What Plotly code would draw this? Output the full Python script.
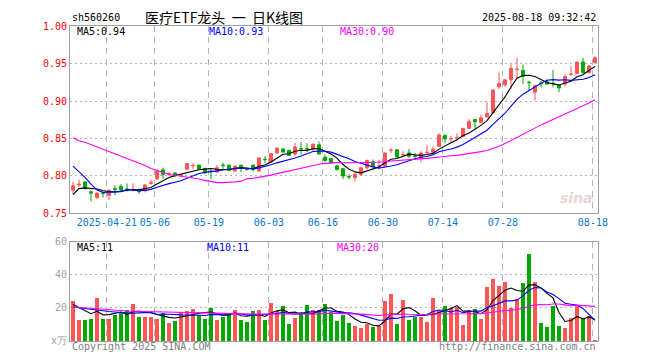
import plotly.graph_objects as go

# ---------------- data ----------------
dates = ["04-11","04-14","04-15","04-16","04-17","04-18","04-21","04-22","04-23","04-24","04-25","04-28","04-29","04-30",
         "05-06","05-07","05-08","05-09","05-12","05-13","05-14","05-15","05-16","05-19","05-20","05-21","05-22","05-23",
         "05-26","05-27","05-28","05-29","05-30","06-03","06-04","06-05","06-06","06-09","06-10","06-11","06-12","06-13",
         "06-16","06-17","06-18","06-19","06-20","06-23","06-24","06-25","06-26","06-27","06-30","07-01","07-02","07-03",
         "07-04","07-07","07-08","07-09","07-10","07-11","07-14","07-15","07-16","07-17","07-18","07-21","07-22","07-23",
         "07-24","07-25","07-28","07-29","07-30","07-31","08-01","08-04","08-05","08-06","08-07","08-08","08-11","08-12",
         "08-13","08-14","08-15","08-18"]

opens = [0.781,0.788,0.792,0.779,0.771,0.777,0.774,0.783,0.786,0.7825,0.7815,0.782,0.780,0.790,
         0.796,0.808,0.8025,0.804,0.801,0.809,0.8137,0.8145,0.810,0.8066,0.8052,0.8146,0.8144,0.8066,
         0.8144,0.809,0.8144,0.8066,0.8222,0.8184,0.8307,0.8359,0.8342,0.8294,0.8366,0.8366,0.835,0.8416,
         0.825,0.8232,0.8135,0.8096,0.799,0.7978,0.8022,0.8109,0.8188,0.8128,0.8131,0.8339,0.835,0.8283,
         0.8307,0.8266,0.8241,0.8312,0.8315,0.8394,0.8539,0.8495,0.851,0.8526,0.8636,0.8754,0.8715,0.8789,
         0.8846,0.9193,0.9219,0.9285,0.9423,0.9412,0.9252,0.9118,0.924,0.9258,0.924,0.9214,0.9228,0.9358,
         0.9368,0.9522,0.9381,0.9513]
highs = [0.792,0.795,0.793,0.779,0.778,0.778,0.782,0.787,0.789,0.790,0.790,0.783,0.789,0.795,
         0.809,0.811,0.805,0.805,0.803,0.817,0.8175,0.815,0.811,0.809,0.8144,0.8175,0.815,0.8135,
         0.815,0.810,0.815,0.8245,0.8263,0.830,0.838,0.837,0.835,0.8438,0.8451,0.8438,0.843,0.846,
         0.8285,0.824,0.815,0.810,0.8022,0.8044,0.811,0.8219,0.8219,0.8219,0.831,0.8373,0.836,0.8329,
         0.836,0.8307,0.8329,0.8416,0.8394,0.857,0.8557,0.8539,0.857,0.864,0.8758,0.876,0.882,0.8987,
         0.916,0.9381,0.929,0.9491,0.9579,0.9491,0.9272,0.922,0.9272,0.929,0.9416,0.922,0.9359,0.9469,
         0.953,0.9579,0.948,0.960]
lows = [0.776,0.785,0.782,0.766,0.769,0.771,0.768,0.774,0.780,0.779,0.779,0.776,0.778,0.788,
        0.795,0.796,0.800,0.7995,0.799,0.808,0.809,0.808,0.802,0.7956,0.8048,0.8087,0.8065,0.8052,
        0.8052,0.807,0.806,0.8052,0.8175,0.818,0.830,0.831,0.827,0.8263,0.8285,0.832,0.834,0.8285,
        0.8184,0.8162,0.807,0.7956,0.7956,0.7925,0.800,0.8087,0.8087,0.8087,0.812,0.8307,0.824,0.825,
        0.8241,0.8219,0.8184,0.8285,0.831,0.839,0.8438,0.8438,0.8469,0.8513,0.863,0.8627,0.871,0.8787,
        0.883,0.9162,0.9193,0.9162,0.9294,0.9228,0.914,0.9008,0.9184,0.922,0.9184,0.9118,0.9193,0.9337,
        0.936,0.9368,0.9368,0.9508]
closes = [0.787,0.789,0.783,0.777,0.777,0.7765,0.781,0.782,0.782,0.782,0.782,0.779,0.788,0.791,
          0.806,0.802,0.803,0.800,0.8016,0.8166,0.814,0.809,0.8043,0.806,0.8109,0.814,0.8074,0.8131,
          0.810,0.8087,0.8087,0.8241,0.8218,0.8298,0.8372,0.832,0.8276,0.8386,0.8363,0.8362,0.8425,0.8294,
          0.8206,0.8175,0.8087,0.800,0.7986,0.8022,0.8109,0.8206,0.8123,0.8135,0.8307,0.8342,0.8254,0.8287,
          0.8263,0.8262,0.8307,0.8316,0.8359,0.8548,0.8495,0.8499,0.8514,0.8636,0.8728,0.8723,0.8776,0.8833,
          0.9149,0.9236,0.9285,0.9438,0.9427,0.9329,0.9248,0.9206,0.9236,0.9228,0.9236,0.9175,0.9329,0.936,
          0.9522,0.9381,0.9469,0.9579]
volumes = [24.1,12.7,12.7,13.5,26.5,13.5,13.5,16.2,17.6,18.8,22.5,14.7,14.7,14.7,
           13.5,17.2,11.2,12.6,17.6,18.2,19.6,16.2,13.5,20.2,12.7,14.7,17.2,18.8,
           12.7,11.8,18.2,18.8,12.7,23.1,18.2,21.1,10.5,14.1,17.6,21.7,18.8,18.8,
           22.5,17.6,12.2,16.2,11.1,9.2,8.0,10.6,8.8,9.2,24.1,28.5,10.6,24.7,
           12.8,14.7,14.5,11.8,26.5,18.6,21.1,20.1,20.7,9.8,18.8,19.6,13.5,32.7,
           37.5,33.6,35.6,20.3,25.5,35.0,53.0,35.6,11.1,8.8,21.5,9.2,8.2,14.1,
           21.1,14.1,15.1,0.8]

# moving-average values read from the chart where earlier history is not shown
ma5_head = [0.775,0.783,0.784,0.783]
ma10_head = [0.813,0.806,0.798,0.789,0.781,0.778,0.778,0.779,0.779]
ma30_head = [0.851,0.847,0.845,0.842,0.839,0.835,0.832,0.829,0.826,0.823,0.820,0.817,0.814,0.810,0.807,
             0.804,0.802,0.801,0.800,0.799,0.797,0.796,0.794,0.792,0.791,0.791,0.791,0.792,0.793]
vma5_head = [22.0,20.0,18.0,16.5]
vma10_head = [20.5,20.0,19.5,19.0,18.8,18.3,17.8,17.5,17.2]
vma30_head = [20.5,20.2,20.0,19.6,19.3,19.0,18.8,18.5,18.3,18.1,18.0,17.9,17.8,17.7,17.6,
              17.5,17.4,17.3,17.2,17.1,17.0,16.9,16.8,16.7,16.6,16.5,16.4,16.3,16.2]

tick_dates = ["04-21","05-06","05-19","06-03","06-16","06-30","07-14","07-28","08-18"]
tick_labels = ["2025-04-21","05-06","05-19","06-03","06-16","06-30","07-14","07-28","08-18"]
price_ticks = [0.75,0.80,0.85,0.90,0.95,1.00]
price_ticktext = ["0.75","0.80","0.85","0.90","0.95","1.00"]
vol_ticks = [0,20,40,60]
vol_ticktext = ["x万","20","40","60"]

# ---------------- helpers ----------------
def rolling(vals, n, head):
    out = list(head)
    for i in range(len(head), len(vals)):
        out.append(sum(vals[i - n + 1:i + 1]) / n)
    return out

idx = list(range(len(dates)))
ma5 = rolling(closes, 5, ma5_head)
ma10 = rolling(closes, 10, ma10_head)
ma30 = rolling(closes, 30, ma30_head)
vma5 = rolling(volumes, 5, vma5_head)
vma10 = rolling(volumes, 10, vma10_head)
vma30 = rolling(volumes, 30, vma30_head)

RED = "#ff5555"
GREEN = "#00a800"
MONO = "DejaVu Sans Mono"
bar_colors = [RED if c >= o else GREEN for o, c in zip(opens, closes)]
tick_pos = [dates.index(d) - 0.35 for d in tick_dates]

fig = go.Figure()
fig.add_trace(go.Candlestick(
    x=idx, open=opens, high=highs, low=lows, close=closes,
    increasing=dict(line=dict(color=RED, width=1), fillcolor=RED),
    decreasing=dict(line=dict(color=GREEN, width=1), fillcolor=GREEN),
    whiskerwidth=0, hoverinfo="skip", xaxis="x", yaxis="y"))
for vals, col in [(ma5, "black"), (ma10, "#0000ff"), (ma30, "#ff00ff")]:
    fig.add_trace(go.Scatter(x=idx, y=vals, mode="lines", line=dict(color=col, width=1.1),
                             hoverinfo="skip", xaxis="x", yaxis="y"))
fig.add_trace(go.Bar(x=idx, y=volumes, marker=dict(color=bar_colors, line=dict(width=0)),
                     width=0.72, hoverinfo="skip", xaxis="x2", yaxis="y2"))
for vals, col in [(vma5, "black"), (vma10, "#0000ff"), (vma30, "#ff00ff")]:
    fig.add_trace(go.Scatter(x=idx, y=vals, mode="lines", line=dict(color=col, width=1.1),
                             hoverinfo="skip", xaxis="x2", yaxis="y2"))

# page body has an 8px default margin, so the figure is laid out 8px up/left
OFF = 8
W, H = 660 - OFF, 360 - OFF
FL, FR, FB = 70, 598, 341          # frame left/right/bottom in screen pixels
L, R, T, B = FL - OFF, W - (FR - OFF), 21 - OFF, H - (FB - OFF)
PW, PH = W - L - R, H - T - B

def px(xs):
    return (xs - OFF - L) / PW

def py(ys):
    return (H - B - (ys - OFF)) / PH

def clamp(v):
    return min(1.0, max(0.0, v))

frame = dict(showline=True, linecolor="#a0a0a0", linewidth=1, mirror=True, zeroline=False, ticks="")
xcommon = dict(range=[-0.5, len(dates) - 0.5], tickvals=tick_pos, showgrid=True,
               gridcolor="#b4b4b4", gridwidth=1, griddash="6px,5px", **frame)
fig.update_layout(
    width=W, height=H, margin=dict(l=L, r=R, t=T, b=B),
    paper_bgcolor="white", plot_bgcolor="white", showlegend=False,
    bargap=0,
    xaxis=dict(domain=[0, 1], anchor="y", ticktext=tick_labels,
               tickfont=dict(family=MONO, size=10, color="#0a78d2"),
               rangeslider=dict(visible=False), **xcommon),
    xaxis2=dict(domain=[0, 1], anchor="y2", matches="x", showticklabels=False, **xcommon),
    yaxis=dict(domain=[clamp(py(211.3)), clamp(py(21.3))], range=[0.75, 1.0], tickvals=price_ticks,
               ticktext=price_ticktext, tickfont=dict(family=MONO, size=10, color="#ff0000"),
               showgrid=True, gridcolor="#b4b4b4", griddash="2px,3px", **frame),
    yaxis2=dict(domain=[clamp(py(341)), clamp(py(240))], range=[0, 60], tickvals=vol_ticks,
                ticktext=vol_ticktext, tickfont=dict(family=MONO, size=10, color="#a0a0a0"),
                showgrid=True, gridcolor="#b4b4b4", griddash="2px,3px", **frame),
)

def note(x, y, text, color="black", size=10, family=MONO, xanchor="left"):
    fig.add_annotation(x=px(x), y=py(y), xref="paper", yref="paper", text=text, showarrow=False,
                       xanchor=xanchor, yanchor="middle",
                       font=dict(family=family, size=size, color=color))

NB = "\u00a0"
note(70, 12, "sh560260")
note(224, 12, "医疗ETF龙头" + NB * 2 + "一" + NB * 2 + "日K线图", size=14,
     family="Noto Sans CJK SC", xanchor="center")
note(598, 12, "2025-08-18 09:32:42", xanchor="right")
note(75, 27, "MA5:0.94")
note(207, 27, "MA10:0.93", color="#0000ff")
note(338, 27, "MA30:0.90", color="#ff00ff")
note(75, 246, "MA5:11")
note(205, 246, "MA10:11", color="#0000ff")
note(335, 246, "MA30:20", color="#ff00ff")
note(70, 347, "Copyright 2025 SINA.COM", color="#808080")
note(598, 347, "http://finance.sina.com.cn", color="#808080", xanchor="right")
note(576, 196, "<i><b>sina</b></i>", color="#e6d6d6", size=14, family="DejaVu Sans", xanchor="center")

fig.write_html("out.html")
